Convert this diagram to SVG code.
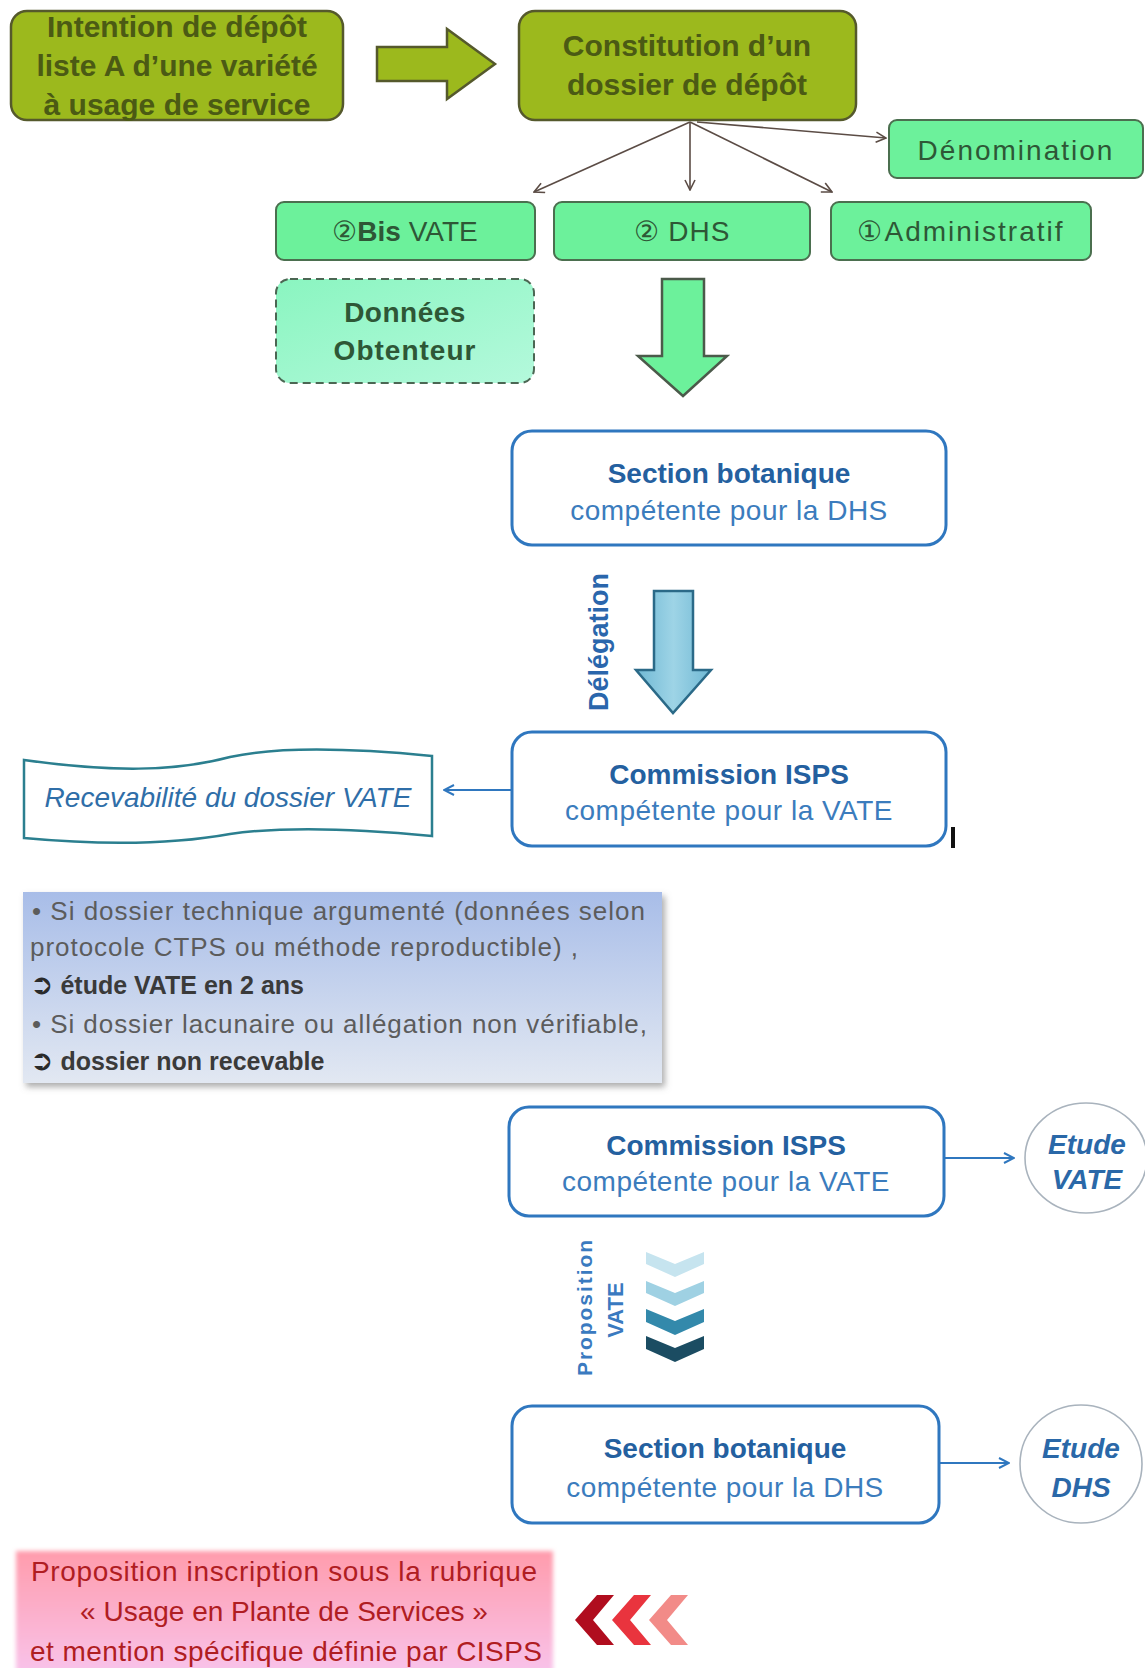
<svg xmlns="http://www.w3.org/2000/svg" width="1145" height="1668" viewBox="0 0 1145 1668">
<style>
  text { font-family: "Liberation Sans", Arial, sans-serif; }
  .olive { fill: #9cb91d; stroke: #55592c; stroke-width: 2.5; }
  .oliveTxt { fill: #4b5a14; font-size: 30px; font-weight: bold; text-anchor: middle; }
  .green { fill: #6cf19b; stroke: #4b6f4f; stroke-width: 2; }
  .greenTxt { fill: #2e5736; font-size: 28px; text-anchor: middle; }
  .blueBox { fill: #ffffff; stroke: #2f77bf; stroke-width: 3; }
  .title { fill: #24609f; font-size: 28px; font-weight: bold; text-anchor: middle; }
  .sub { fill: #3b7cbd; font-size: 28px; text-anchor: middle; letter-spacing: 0.5px; }
  .conn { stroke: #5b4c45; stroke-width: 1.6; fill: none; }
  .bconn { stroke: #2f77bf; stroke-width: 2; fill: none; }
  .etude { fill: #ffffff; stroke: #a9b3bd; stroke-width: 1.6; }
  .etudeTxt { fill: #2a68a8; font-size: 28px; font-weight: bold; font-style: italic; text-anchor: middle; }
  .note { fill: #5c5c5c; font-size: 26px; }
  .noteB { fill: #3a3a3a; font-size: 25px; font-weight: bold; }
  .sym { font-family: "DejaVu Sans", sans-serif; font-size: 28px; font-weight: bold; fill: #2a2a2a; }
  .pinkTxt { fill: #b01d22; font-size: 28px; text-anchor: middle; }
</style>
<defs>
  <marker id="arrDark" viewBox="0 0 12 12" refX="11" refY="6" markerWidth="12" markerHeight="12" markerUnits="userSpaceOnUse" orient="auto">
    <path d="M1,1 L11,6 L1,11" fill="none" stroke="#5b4c45" stroke-width="1.6"/>
  </marker>
  <marker id="arrBlue" viewBox="0 0 12 12" refX="11" refY="6" markerWidth="12" markerHeight="12" markerUnits="userSpaceOnUse" orient="auto">
    <path d="M1,1 L11,6 L1,11" fill="none" stroke="#2f77bf" stroke-width="2"/>
  </marker>
  <linearGradient id="mint" x1="0" y1="0" x2="1" y2="1">
    <stop offset="0" stop-color="#8af5c0"/>
    <stop offset="1" stop-color="#b4f9dc"/>
  </linearGradient>
  <linearGradient id="delegGrad" x1="0" y1="0" x2="1" y2="0">
    <stop offset="0" stop-color="#6fb8d4"/>
    <stop offset="0.5" stop-color="#9ed4e6"/>
    <stop offset="1" stop-color="#6fb8d4"/>
  </linearGradient>
  <linearGradient id="noteGrad" x1="0" y1="0" x2="0" y2="1">
    <stop offset="0" stop-color="#a8bde8"/>
    <stop offset="1" stop-color="#e2e8f2"/>
  </linearGradient>
  <linearGradient id="pinkGrad" x1="0" y1="0" x2="0" y2="1">
    <stop offset="0" stop-color="#ff9cac"/>
    <stop offset="1" stop-color="#f8c4ec"/>
  </linearGradient>
  <filter id="shadow" x="-5%" y="-5%" width="115%" height="120%">
    <feDropShadow dx="3" dy="4" stdDeviation="3" flood-color="#777" flood-opacity="0.6"/>
  </filter>
  <filter id="soft" x="-5%" y="-10%" width="110%" height="120%">
    <feGaussianBlur stdDeviation="2"/>
  </filter>
</defs>
<rect width="1145" height="1668" fill="#ffffff"/>

<g id="connectors">
  <path d="M377,47 H447 V29 L495,64 L447,99 V81 H377 Z" class="olive"/>
  <line x1="690" y1="122" x2="534" y2="192" class="conn" marker-end="url(#arrDark)"/>
  <line x1="690" y1="122" x2="690" y2="190" class="conn" marker-end="url(#arrDark)"/>
  <line x1="690" y1="122" x2="832" y2="192" class="conn" marker-end="url(#arrDark)"/>
  <line x1="697" y1="122" x2="886" y2="138" class="conn" marker-end="url(#arrDark)"/>
  <path d="M662,279 H704 V356 H727 L683,396 L638,356 H662 Z" fill="#6cf19b" stroke="#4b5a4a" stroke-width="2.5"/>
  <path d="M654,591 H693 V670 H711 L673,713 L636,670 H654 Z" fill="url(#delegGrad)" stroke="#2b6a88" stroke-width="2.5"/>
  <text x="0" y="0" transform="translate(608,642) rotate(-90)" fill="#2a66ac" font-size="27" font-weight="bold" text-anchor="middle">Délégation</text>
  <line x1="512" y1="790" x2="444" y2="790" class="bconn" marker-end="url(#arrBlue)"/>
  <line x1="944" y1="1158" x2="1014" y2="1158" class="bconn" marker-end="url(#arrBlue)"/>
  <line x1="939" y1="1463" x2="1009" y2="1463" class="bconn" marker-end="url(#arrBlue)"/>
  <g id="chevronsBlue">
    <path d="M646,1252 L675,1264 L704,1252 L704,1264 L675,1277 L646,1264 Z" fill="#c6e4ef"/>
    <path d="M646,1281 L675,1293 L704,1281 L704,1293 L675,1306 L646,1293 Z" fill="#9fd1e3"/>
    <path d="M646,1309 L675,1321 L704,1309 L704,1322 L675,1335 L646,1322 Z" fill="#3389ab"/>
    <path d="M646,1336 L675,1348 L704,1336 L704,1349 L675,1362 L646,1349 Z" fill="#1b4c62"/>
  </g>
  <text x="0" y="0" transform="translate(592,1308) rotate(-90)" fill="#3a7ac0" font-size="21" font-weight="bold" text-anchor="middle" textLength="136" lengthAdjust="spacing">Proposition</text>
  <text x="0" y="0" transform="translate(623,1310) rotate(-90)" fill="#3a7ac0" font-size="22" font-weight="bold" text-anchor="middle">VATE</text>
  <g id="chevronsRed">
    <path d="M597,1595 L614,1595 L593,1620 L614,1645 L597,1645 L575,1620 Z" fill="#b00d1e"/>
    <path d="M634,1595 L651,1595 L630,1620 L651,1645 L634,1645 L612,1620 Z" fill="#e9343e"/>
    <path d="M671,1595 L688,1595 L667,1620 L688,1645 L671,1645 L649,1620 Z" fill="#f28b88"/>
  </g>
</g>

<g id="intention">
  <rect x="11" y="11" width="332" height="109" rx="16" class="olive"/>
  <text x="177" y="37" class="oliveTxt">Intention de dépôt</text>
  <text x="177" y="76" class="oliveTxt">liste A d’une variété</text>
  <text x="177" y="115" class="oliveTxt">à usage de service</text>
</g>

<g id="constitution">
  <rect x="519" y="11" width="337" height="109" rx="16" class="olive"/>
  <text x="687" y="56" class="oliveTxt" font-size="29">Constitution d’un</text>
  <text x="687" y="95" class="oliveTxt" font-size="29">dossier de dépôt</text>
</g>

<g id="denomination">
  <rect x="889" y="120" width="254" height="58" rx="8" class="green"/>
  <text x="1016" y="160" class="greenTxt" letter-spacing="2">Dénomination</text>
</g>

<g id="bisvate">
  <rect x="276" y="202" width="259" height="58" rx="8" class="green"/>
  <text x="405" y="241" class="greenTxt">②<tspan font-weight="bold">Bis</tspan> VATE</text>
</g>

<g id="dhs">
  <rect x="554" y="202" width="256" height="58" rx="8" class="green"/>
  <text x="682" y="241" class="greenTxt" letter-spacing="1">② DHS</text>
</g>

<g id="administratif">
  <rect x="831" y="202" width="260" height="58" rx="8" class="green"/>
  <text x="961" y="241" class="greenTxt" letter-spacing="2">①Administratif</text>
</g>

<g id="donnees">
  <rect x="276" y="279" width="258" height="104" rx="14" fill="url(#mint)" stroke="#4c6653" stroke-width="2" stroke-dasharray="8,5"/>
  <text x="405" y="322" class="greenTxt" font-size="29" font-weight="bold" letter-spacing="0.5">Données</text>
  <text x="405" y="360" class="greenTxt" font-size="29" font-weight="bold" letter-spacing="1">Obtenteur</text>
</g>

<g id="section1">
  <rect x="512" y="431" width="434" height="114" rx="20" class="blueBox"/>
  <text x="729" y="483" class="title">Section botanique</text>
  <text x="729" y="520" class="sub">compétente pour la DHS</text>
</g>

<g id="commission1">
  <rect x="512" y="732" width="434" height="114" rx="20" class="blueBox"/>
  <text x="729" y="784" class="title">Commission ISPS</text>
  <text x="729" y="820" class="sub">compétente pour la VATE</text>
  <rect x="951" y="827" width="4" height="21" fill="#111111"/>
</g>

<g id="recevabilite">
  <path d="M24,760 C110,772 175,772 230,757 C280,746 360,749 432,756 L432,836 C360,829 285,826 230,834 C175,844 110,846 24,838 Z" fill="#ffffff" stroke="#2b7f8f" stroke-width="2.5"/>
  <text x="228" y="807" fill="#2f6ea8" font-size="28" font-style="italic" text-anchor="middle">Recevabilité du dossier VATE</text>
</g>

<g id="note">
  <rect x="23" y="892" width="639" height="191" fill="url(#noteGrad)" filter="url(#shadow)"/>
  <text x="32" y="920" class="note" textLength="613" lengthAdjust="spacing">•  Si dossier  technique  argumenté  (données  selon</text>
  <text x="30" y="956" class="note" textLength="548" lengthAdjust="spacing">protocole CTPS ou méthode  reproductible) ,</text>
  <text x="30" y="994" class="noteB"><tspan class="sym">➲</tspan> étude VATE en 2 ans</text>
  <text x="32" y="1033" class="note" textLength="615" lengthAdjust="spacing">•  Si dossier  lacunaire  ou  allégation  non  vérifiable,</text>
  <text x="30" y="1070" class="noteB"><tspan class="sym">➲</tspan> dossier non recevable</text>
</g>

<g id="commission2">
  <rect x="509" y="1107" width="435" height="109" rx="20" class="blueBox"/>
  <text x="726" y="1155" class="title">Commission ISPS</text>
  <text x="726" y="1191" class="sub">compétente pour la VATE</text>
</g>

<g id="etudeVate">
  <ellipse cx="1086" cy="1158" rx="61" ry="55" class="etude"/>
  <text x="1087" y="1154" class="etudeTxt">Etude</text>
  <text x="1087" y="1189" class="etudeTxt">VATE</text>
</g>

<g id="section2">
  <rect x="512" y="1406" width="427" height="117" rx="20" class="blueBox"/>
  <text x="725" y="1458" class="title">Section botanique</text>
  <text x="725" y="1497" class="sub">compétente pour la DHS</text>
</g>

<g id="etudeDhs">
  <ellipse cx="1081" cy="1464" rx="61" ry="59" class="etude"/>
  <text x="1081" y="1458" class="etudeTxt">Etude</text>
  <text x="1081" y="1497" class="etudeTxt">DHS</text>
</g>

<g id="proposition">
  <rect x="16" y="1551" width="537" height="125" fill="url(#pinkGrad)" filter="url(#soft)"/>
  <text x="284" y="1581" class="pinkTxt" textLength="506" lengthAdjust="spacing">Proposition inscription sous la rubrique</text>
  <text x="284" y="1621" class="pinkTxt">« Usage en Plante de Services »</text>
  <text x="286" y="1661" class="pinkTxt" textLength="512" lengthAdjust="spacing">et mention spécifique définie par CISPS</text>
</g>
</svg>
